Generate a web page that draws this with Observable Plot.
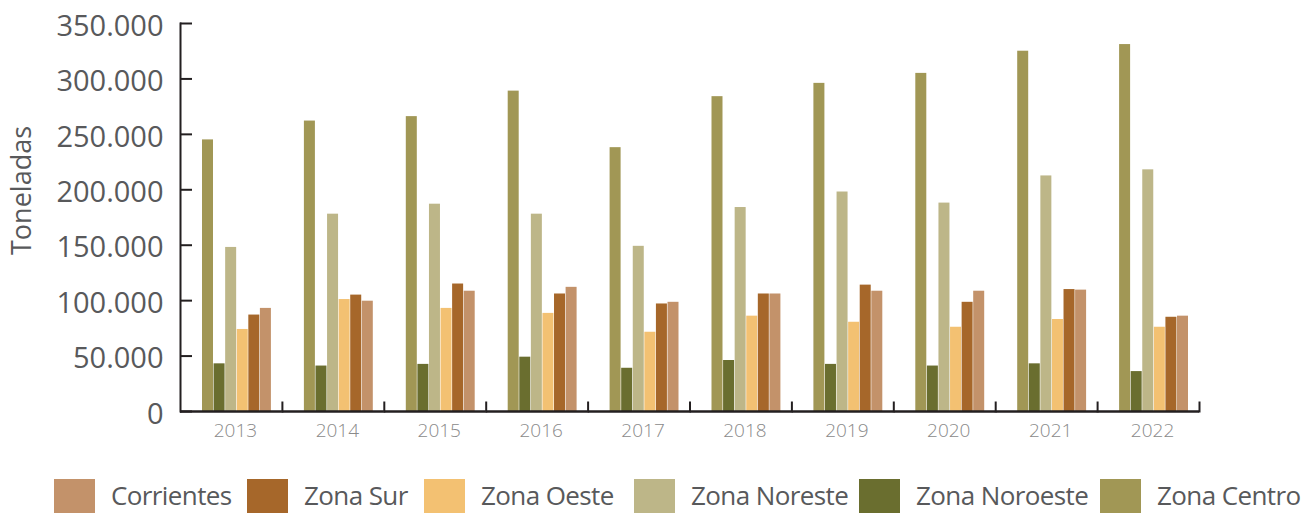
<!DOCTYPE html>
<html>
<head>
<meta charset="utf-8">
<script src="https://cdn.jsdelivr.net/npm/d3@7"></script>
<script src="https://cdn.jsdelivr.net/npm/@observablehq/plot@0.6"></script>
<style>
  html, body { margin: 0; padding: 0; background: #fff; }
  body { width: 1312px; height: 513px; overflow: hidden; position: relative; font-family: "Open Sans", sans-serif; }
  #chart svg { display: block; }
  #legend { position: absolute; left: 0; top: 0; width: 1312px; height: 513px; pointer-events: none; }
  .sw { position: absolute; top: 479px; width: 41px; height: 34px; }
  .lt { position: absolute; top: 485px; font-size: 26px; line-height: 20px; letter-spacing: -0.6px; color: #58595b; white-space: nowrap; }
</style>
</head>
<body>
<div id="chart"></div>
<div id="legend"></div>
<script>
const years = ["2013", "2014", "2015", "2016", "2017", "2018", "2019", "2020", "2021", "2022"];
const seriesOrder = ["Zona Centro", "Zona Noroeste", "Zona Noreste", "Zona Oeste", "Zona Sur", "Corrientes"];
const legendOrder = ["Corrientes", "Zona Sur", "Zona Oeste", "Zona Noreste", "Zona Noroeste", "Zona Centro"];
const seriesColors = ["#a19755", "#6a6e2f", "#bdb688", "#f3c172", "#a6672a", "#c3926a"];

const zonaCentro   = [245000, 262000, 266000, 289000, 238000, 284000, 296000, 305000, 325000, 331000];
const zonaNoroeste = [43000, 41000, 42500, 49000, 39000, 46000, 42500, 41000, 43000, 36000];
const zonaNoreste  = [148000, 178000, 187000, 178000, 149000, 184000, 198000, 188000, 212500, 218000];
const zonaOeste    = [74000, 101000, 93000, 88500, 71500, 86000, 80500, 76000, 83000, 76000];
const zonaSur      = [87000, 105000, 115000, 106000, 97000, 106000, 114000, 98500, 110000, 85000];
const corrientes   = [93000, 99500, 108500, 112000, 98500, 106000, 108500, 108500, 109500, 86000];

const yTicks = [0, 50000, 100000, 150000, 200000, 250000, 300000, 350000];
const yTitle = "Toneladas";

const seriesValues = {
  "Zona Centro": zonaCentro,
  "Zona Noroeste": zonaNoroeste,
  "Zona Noreste": zonaNoreste,
  "Zona Oeste": zonaOeste,
  "Zona Sur": zonaSur,
  "Corrientes": corrientes
};

const rows = [];
years.forEach((yr, i) => {
  seriesOrder.forEach(s => rows.push({year: yr, series: s, value: seriesValues[s][i]}));
});

const fmt = d => d3.format(",")(d).replace(/,/g, ".");
const ink = "#231f20";

const plot = Plot.plot({
  width: 1312,
  height: 450,
  marginLeft: 180,
  marginRight: 113,
  marginTop: 23,
  marginBottom: 39,
  style: {fontFamily: "'Open Sans', sans-serif", background: "#fff"},
  fx: {domain: years, padding: 0, round: false, axis: null, label: null},
  x: {domain: seriesOrder, axis: null, round: false, insetLeft: 22, insetRight: 11, paddingInner: 0.05, paddingOuter: 0},
  y: {domain: [0, 350000], axis: null},
  color: {domain: seriesOrder, range: seriesColors},
  marks: [
    Plot.barY(rows, {fx: "year", x: "series", y: "value", fill: "series"}),
    Plot.ruleY([0], {stroke: ink, strokeWidth: 2.5}),
    Plot.frame({anchor: "right", insetTop: 379, stroke: ink, strokeWidth: 2}),
    Plot.frame({anchor: "left", facetAnchor: "left", stroke: ink, strokeWidth: 2}),
    Plot.axisY(yTicks, {tickSize: 12, dx: 12, tickFormat: () => "", stroke: ink, strokeWidth: 2, label: null}),
    Plot.axisY(yTicks, {tickSize: 0, tickPadding: 17, tickFormat: fmt, fontSize: 29, fill: "#58595b", dy: 3, label: null}),
    Plot.axisFx({anchor: "bottom", tickSize: 0, tickPadding: 12, fontSize: 19, fill: "#8a8a8a", fontWeight: 300, dx: 4, label: null}),
    Plot.text([yTitle], {facetAnchor: "left", frameAnchor: "left", textAnchor: "middle", rotate: -90, dx: -158, dy: -27, fontSize: 27, fill: "#58595b"})
  ]
});
document.getElementById("chart").appendChild(plot);

const swatchLeft = [54, 247, 424, 634, 859, 1100];
const legend = document.getElementById("legend");
legendOrder.forEach((name, i) => {
  const sw = document.createElement("div");
  sw.className = "sw";
  sw.style.left = swatchLeft[i] + "px";
  sw.style.background = seriesColors[seriesOrder.indexOf(name)];
  legend.appendChild(sw);
  const t = document.createElement("div");
  t.className = "lt";
  t.style.left = (swatchLeft[i] + 57) + "px";
  t.textContent = name;
  legend.appendChild(t);
});
</script>
</body>
</html>
